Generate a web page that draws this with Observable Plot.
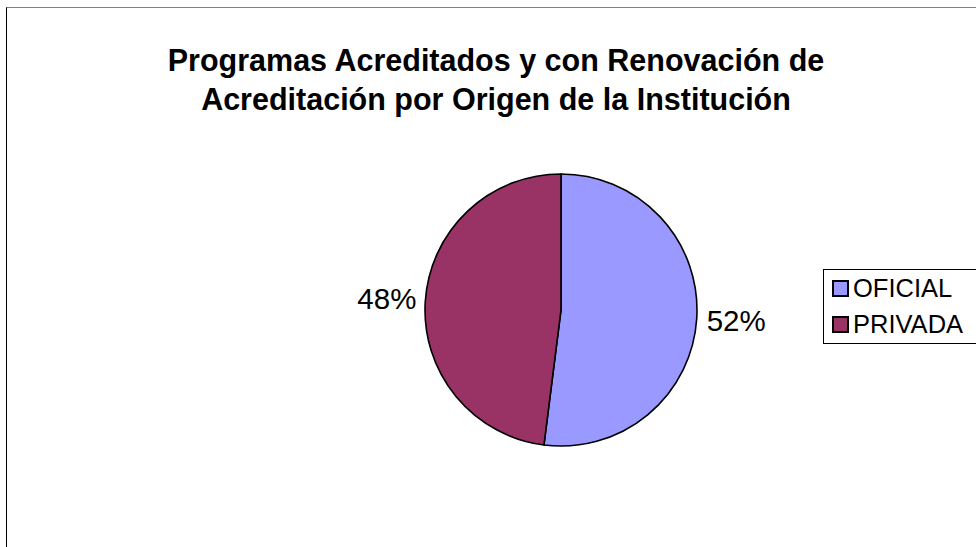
<!DOCTYPE html>
<html>
<head>
<meta charset="utf-8">
<script src="https://cdn.jsdelivr.net/npm/d3@7"></script>
<script src="https://cdn.jsdelivr.net/npm/@observablehq/plot@0.6"></script>
<style>
  html, body { margin: 0; padding: 0; background: #fff; }
  #chart { position: relative; width: 976px; height: 547px; overflow: hidden; font-family: "Liberation Sans", Arial, sans-serif; }
  #frame { position: absolute; left: 6px; top: 7px; width: 1000px; height: 600px; border-left: 1.5px solid #000; border-top: 1.5px solid #808080; }
  #title { position: absolute; left: 0; top: 41px; width: 992px; text-align: center; font-weight: bold; font-size: 30.5px; line-height: 39px; color: #000; }
  #plot { position: absolute; left: 0; top: 0; }
  #legend { position: absolute; left: 823px; top: 269px; width: 200px; height: 75px; border: 1.5px solid #000; box-sizing: border-box; }
  .item { position: absolute; left: 8px; font-size: 25.5px; line-height: 26px; display: flex; align-items: center; }
  .sw { width: 13px; height: 13px; border: 2px solid #000; margin-right: 4px; }
</style>
</head>
<body>
<div id="chart">
  <div id="frame"></div>
  <div id="plot"></div>
  <div id="title">Programas Acreditados y con Renovación de<br>Acreditación por Origen de la Institución</div>
  <div id="legend"></div>
</div>
<script>
// Data
const categories = ["OFICIAL", "PRIVADA"];
const values = [52, 48];
const labels = ["52%", "48%"];
const colors = ["#9999FF", "#993366"];

const data = categories.map((c, i) => ({category: c, value: values[i], label: labels[i]}));

// Layout
const W = 976, H = 547;
const cx = 561, cy = 310, R = 136, labelR = 175;

const pie = d3.pie().sort(null).value(d => d.value)(data);
const labelData = pie.map(a => {
  const mid = (a.startAngle + a.endAngle) / 2;
  return {label: a.data.label, x: cx + labelR * Math.sin(mid), y: cy - labelR * Math.cos(mid)};
});

const colorMap = new Map(categories.map((c, i) => [c, colors[i]]));

function pieMark(index, scales, values_, dimensions, context) {
  const color = scales && scales.color ? scales.color : (k => colorMap.get(k));
  const sx = scales && scales.x ? scales.x : (v => v);
  const sy = scales && scales.y ? scales.y : (v => v);
  const arc = d3.arc().innerRadius(0).outerRadius(R);
  const g = d3.create("svg:g").attr("transform", `translate(${sx(cx)},${sy(cy)})`);
  g.selectAll("path").data(pie).join("path")
    .attr("d", arc)
    .attr("fill", d => color(d.data.category))
    .attr("stroke", "#000")
    .attr("stroke-width", 1.6)
    .attr("stroke-linejoin", "round");
  return g.node();
}

const plot = Plot.plot({
  width: W,
  height: H,
  margin: 0,
  style: {background: "transparent", overflow: "visible"},
  x: {domain: [0, W], range: [0, W], axis: null},
  y: {domain: [0, H], range: [0, H], axis: null},
  color: {domain: categories, range: colors},
  marks: [
    pieMark,
    Plot.text(labelData, {x: "x", y: "y", text: "label", fontSize: 29.5, fill: "#000",
      fontFamily: "Liberation Sans, Arial, sans-serif", textAnchor: "middle", lineAnchor: "middle"})
  ]
});
document.getElementById("plot").appendChild(plot);

// Legend
const legend = document.getElementById("legend");
categories.forEach((c, i) => {
  const item = document.createElement("div");
  item.className = "item";
  item.style.top = (5 + i * 36) + "px";
  const sw = document.createElement("span");
  sw.className = "sw";
  sw.style.background = colors[i];
  item.appendChild(sw);
  item.appendChild(document.createTextNode(c));
  legend.appendChild(item);
});
</script>
</body>
</html>
